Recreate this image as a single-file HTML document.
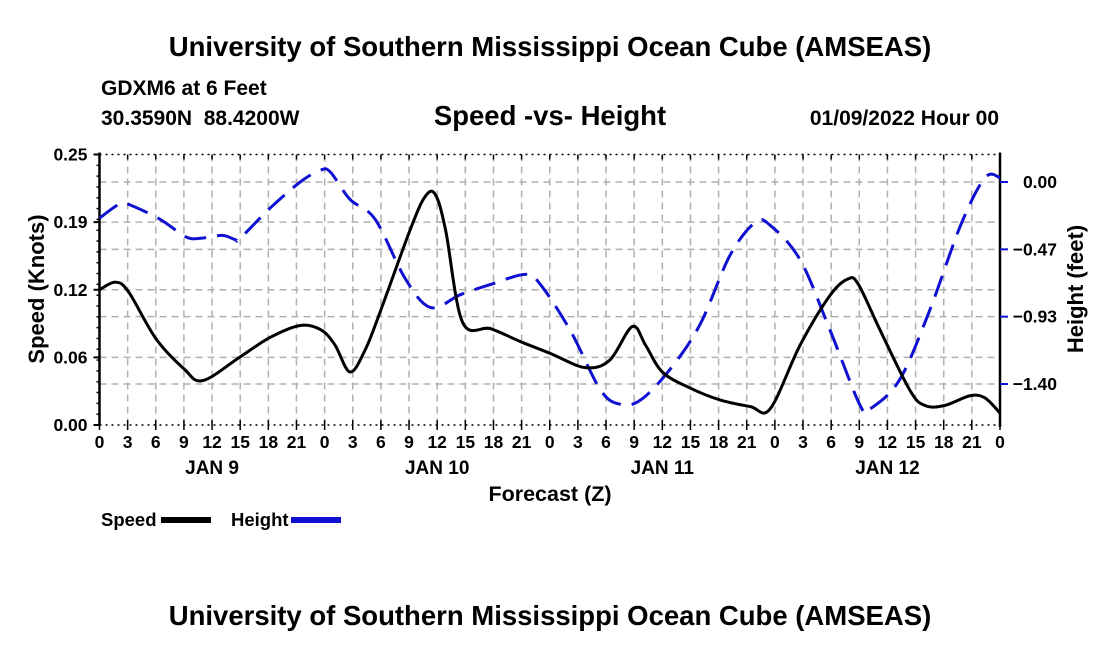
<!DOCTYPE html>
<html><head><meta charset="utf-8"><style>
body{margin:0;background:#fff;}
svg text{font-family:"Liberation Sans",Arial,sans-serif;font-weight:bold;fill:#000;white-space:pre;}
</style></head><body>
<svg id="chart" width="1100" height="650" xmlns="http://www.w3.org/2000/svg">
<rect width="1100" height="650" fill="#fff"/>
<text x="550" y="56" font-size="27.5" text-anchor="middle">University of Southern Mississippi Ocean Cube (AMSEAS)</text>
<text x="101" y="95" font-size="21">GDXM6 at 6 Feet</text>
<text x="101" y="125" font-size="21">30.3590N  88.4200W</text>
<text x="550" y="125" font-size="27.5" text-anchor="middle">Speed -vs- Height</text>
<text x="999" y="125" font-size="21" text-anchor="end">01/09/2022 Hour 00</text>
<g id="grid"></g>
<g id="axes"></g>
<g id="series"></g>
<text transform="translate(44,289) rotate(-90)" font-size="22" text-anchor="middle">Speed (Knots)</text>
<text transform="translate(1083,289) rotate(-90)" font-size="22" text-anchor="middle">Height (feet)</text>
<text x="550" y="501" font-size="21.5" text-anchor="middle">Forecast (Z)</text>
<g>
<text x="101" y="526" font-size="18.5">Speed</text>
<rect x="161" y="517" width="50" height="6" fill="#000"/>
<text x="231" y="526" font-size="18.5">Height</text>
<rect x="291" y="517" width="50" height="6" fill="#1010d0"/>
</g>
<text x="550" y="625" font-size="27.5" text-anchor="middle">University of Southern Mississippi Ocean Cube (AMSEAS)</text>
</svg>
<script>
const speedHours=[0,1.7,3.1,6.0,9.0,11.0,15.0,18.2,21.4,23.6,25.1,26.7,28.3,29.9,33.1,34.7,35.8,36.9,38.7,41.7,44.9,48.1,51.8,54.4,56.8,58.2,60.0,63.0,66.2,69.4,71.5,74.7,77.9,79.8,80.9,83.2,86.4,88.0,90.1,92.8,94.4,96];
const speedValues=[0.125,0.132,0.123,0.080,0.052,0.041,0.063,0.081,0.092,0.088,0.074,0.049,0.069,0.104,0.180,0.211,0.213,0.180,0.095,0.089,0.077,0.066,0.053,0.060,0.091,0.074,0.049,0.034,0.023,0.017,0.015,0.074,0.120,0.135,0.130,0.088,0.032,0.018,0.018,0.027,0.025,0.011];
const heightHours=[0,2.2,3.3,6.5,9.2,10.8,13.1,14.5,15.0,18.2,21.4,23.5,24.6,26.7,29.4,32.6,35.3,38.5,41.7,45.4,47.0,50.2,53.4,55.5,57.7,60.8,64.0,67.2,69.9,71.5,74.7,77.9,81.1,82.2,85.3,88.5,91.8,94.4,96];
const heightValues=[-0.25,-0.15,-0.16,-0.26,-0.38,-0.39,-0.37,-0.40,-0.39,-0.18,0.00,0.08,0.07,-0.12,-0.26,-0.67,-0.87,-0.78,-0.71,-0.64,-0.71,-1.03,-1.44,-1.54,-1.51,-1.30,-0.99,-0.51,-0.28,-0.30,-0.54,-1.03,-1.55,-1.57,-1.37,-0.89,-0.30,0.03,0.03];
const speedTicks=[0,0.0625,0.125,0.1875,0.25];
const speedTickLabels=["0.00","0.06","0.12","0.19","0.25"];
const heightTicks=[0,-0.4667,-0.9333,-1.4];
const heightTickLabels=["0.00","\u22120.47","\u22120.93","\u22121.40"];
const hourTickLabels=["0","3","6","9","12","15","18","21"];
const dayLabels=["JAN 9","JAN 10","JAN 11","JAN 12"];

const X0=99.5,X1=1000,Y0=154.5,Y1=425,HMAX=96;
const xs=h=>X0+(X1-X0)*h/HMAX;
const ysp=v=>Y1-(Y1-Y0)*v/0.25;
const yht=f=>182-f*144.3;
const NS="http://www.w3.org/2000/svg";
function mk(tag,attrs,parent){const e=document.createElementNS(NS,tag);for(const k in attrs)e.setAttribute(k,attrs[k]);parent.appendChild(e);return e;}
const grid=document.getElementById('grid'),axes=document.getElementById('axes'),series=document.getElementById('series');
for(let h=3;h<HMAX;h+=3){const l=mk('line',{x1:xs(h),x2:xs(h),y1:Y0,y2:Y1,stroke:'#b0b0b0','stroke-width':1.5,'stroke-dasharray':'7,5'},grid);

}
speedTicks.forEach((v,i)=>{if(i>0&&i<speedTicks.length-1){const l=mk('line',{x1:X0,x2:X1,y1:ysp(v),y2:ysp(v),stroke:'#b0b0b0','stroke-width':1.5,'stroke-dasharray':'7,5'},grid);

}});
heightTicks.forEach(f=>{const l=mk('line',{x1:X0,x2:X1,y1:yht(f),y2:yht(f),stroke:'#b0b0b0','stroke-width':1.5,'stroke-dasharray':'7,5'},grid);

});
const lf=mk('line',{x1:X0,x2:X0,y1:Y0-2,y2:Y1,stroke:'#000','stroke-width':2.5},axes);


const rf=mk('line',{x1:X1,x2:X1,y1:Y0-2,y2:Y1+2,stroke:'#000','stroke-width':2.5},axes);


const tf=mk('line',{x1:X0,x2:X1,y1:Y0,y2:Y0,stroke:'#000','stroke-width':1.5,'stroke-dasharray':'2,4'},axes);


const bf=mk('line',{x1:X0,x2:X1,y1:Y1,y2:Y1,stroke:'#000','stroke-width':1.5,'stroke-dasharray':'2,4'},axes);


speedTicks.forEach((v,i)=>{mk('line',{x1:X0-6,x2:X0,y1:ysp(v),y2:ysp(v),stroke:'#000','stroke-width':2},axes);
const t=mk('text',{x:X0-12,y:ysp(v)+6,'font-size':17.5,'text-anchor':'end'},axes);t.textContent=speedTickLabels[i];

});
for(let k=0;k<=25;k++){const y=ysp(k*0.01);mk('line',{x1:X0-3,x2:X0,y1:y,y2:y,stroke:'#000','stroke-width':1.5},axes);}
heightTicks.forEach((f,i)=>{mk('line',{x1:X1,x2:X1+8,y1:yht(f),y2:yht(f),stroke:'#1010d0','stroke-width':2},axes);
const t=mk('text',{x:1057,y:yht(f)+6,'font-size':17.5,'text-anchor':'end'},axes);t.textContent=heightTickLabels[i];

});
for(let h=0;h<=HMAX;h+=3){mk('line',{x1:xs(h),x2:xs(h),y1:Y1-5,y2:Y1+5,stroke:'#000','stroke-width':1.5},axes);
mk('line',{x1:xs(h),x2:xs(h),y1:Y0,y2:Y0+5,stroke:'#000','stroke-width':1.5},axes);
const t=mk('text',{x:xs(h),y:448,'font-size':17.5,'text-anchor':'middle'},axes);t.textContent=hourTickLabels[(h/3)%8];

}
dayLabels.forEach((d,i)=>{const t=mk('text',{x:xs(12+24*i),y:474,'font-size':19,'text-anchor':'middle'},axes);t.textContent=d;

});
function smooth(pts){let d=`M${pts[0][0]},${pts[0][1]}`;for(let i=0;i<pts.length-1;i++){const p0=pts[Math.max(0,i-1)],p1=pts[i],p2=pts[i+1],p3=pts[Math.min(pts.length-1,i+2)];
d+=` C${p1[0]+(p2[0]-p0[0])/6},${p1[1]+(p2[1]-p0[1])/6} ${p2[0]-(p3[0]-p1[0])/6},${p2[1]-(p3[1]-p1[1])/6} ${p2[0]},${p2[1]}`;}return d;}
const hp=mk('path',{d:smooth(heightHours.map((h,i)=>[xs(h),yht(heightValues[i])])),fill:'none',stroke:'#1010d0','stroke-width':3,'stroke-dasharray':'22,11'},series);


const sp=mk('path',{d:smooth(speedHours.map((h,i)=>[xs(h),ysp(speedValues[i])])),fill:'none',stroke:'#000','stroke-width':3},series);


</script>
</body></html>
